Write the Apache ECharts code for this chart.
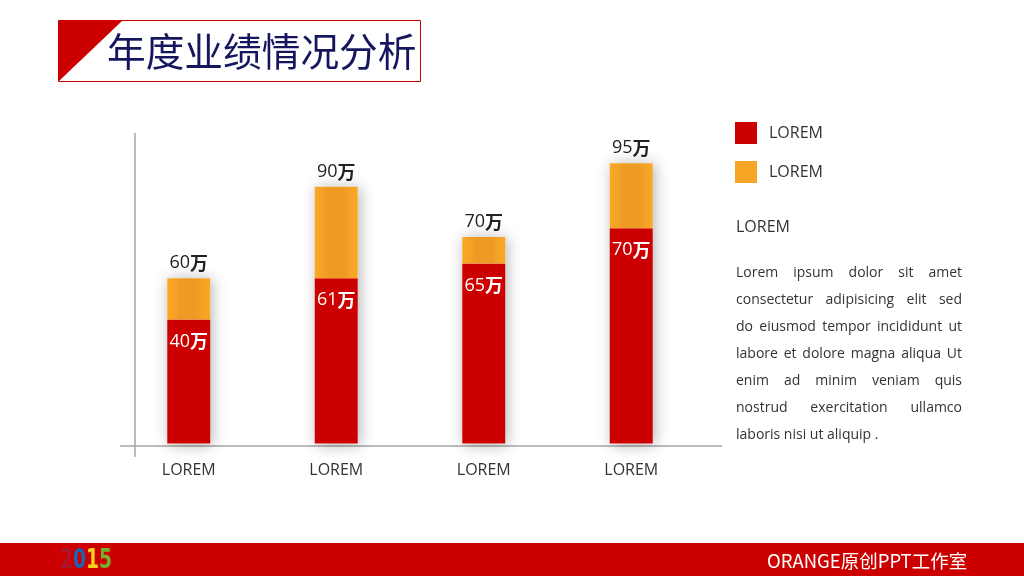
<!DOCTYPE html>
<html>
<head>
<meta charset="utf-8">
<script src="https://cdn.jsdelivr.net/npm/echarts@6/dist/echarts.min.js"></script>
<style>
html,body{margin:0;padding:0;background:#fff;}
#chart{width:1024px;height:576px;}
</style>
</head>
<body>
<div id="chart"></div>
<script>
// ---- data ----
const categories = ['LOREM', 'LOREM', 'LOREM', 'LOREM'];
const redValues = [42, 56, 61, 73];      // lower (red) segment
const orangeValues = [14, 31, 9, 22];    // upper (orange) segment
const totalLabels = ['60', '90', '70', '95'];
const redLabels = ['40', '61', '65', '70'];
const legendNames = ['LOREM', 'LOREM'];
const titleText = '年度业绩情况分析';
const sideHeading = 'LOREM';
const paragraphLines = [
  'Lorem ipsum dolor sit amet',
  'consectetur adipisicing elit sed',
  'do eiusmod tempor incididunt ut',
  'labore et dolore magna aliqua Ut',
  'enim ad minim veniam quis',
  'nostrud exercitation ullamco',
  'laboris nisi ut aliquip .'
];
const footerText = 'ORANGE原创PPT工作室';
const logoDigits = ['2', '0', '1', '5'];

const totals = redValues.map((v, i) => v + orangeValues[i]);

const LATIN = '"Open Sans", "Noto Sans CJK SC", sans-serif';
const CJK = '"Noto Sans CJK SC", "Open Sans", sans-serif';
const RED = '#CC0000';

const chart = echarts.init(document.getElementById('chart'), null, {renderer: 'canvas'});

// justified paragraph
const ctx = document.createElement('canvas').getContext('2d');
const pFont = '14px ' + LATIN;
ctx.font = pFont;
const paraLeft = 736, paraRight = 962, paraTop = 273, paraStep = 27;
const paraGraphics = [];
paragraphLines.forEach((line, li) => {
  const words = line.split(' ');
  const y = paraTop + li * paraStep;
  if (li === paragraphLines.length - 1 || words.length < 2) {
    paraGraphics.push({type: 'text', x: paraLeft, y: y, silent: true,
      style: {text: line, font: pFont, fill: '#333', verticalAlign: 'middle'}});
    return;
  }
  const widths = words.map(w => ctx.measureText(w).width);
  const sum = widths.reduce((a, b) => a + b, 0);
  const gap = (paraRight - paraLeft - sum) / (words.length - 1);
  let x = paraLeft;
  words.forEach((w, wi) => {
    paraGraphics.push({type: 'text', x: x, y: y, silent: true,
      style: {text: w, font: pFont, fill: '#333', verticalAlign: 'middle'}});
    x += widths[wi] + gap;
  });
});

const logoColors = ['#A8182A', '#1565B8', '#F2D21C', '#72B22E'];
const logoRich = {};
logoColors.forEach((c, i) => {
  logoRich['d' + i] = {fontSize: 26, fontWeight: 'bold', fill: c, fontFamily: '"DejaVu Sans Condensed", sans-serif'};
});

const option = {
  animation: false,
  backgroundColor: '#fff',
  grid: {left: 115, right: 319, top: 148.5, bottom: 132.5},
  xAxis: {
    type: 'category',
    data: categories,
    axisLine: {show: false},
    axisTick: {show: false},
    axisLabel: {margin: 19, fontSize: 16, color: '#333', fontFamily: LATIN}
  },
  yAxis: {
    type: 'value', min: 0, max: 100,
    show: false
  },
  legend: {
    orient: 'vertical',
    left: 735, top: 122, padding: 0,
    itemWidth: 22, itemHeight: 22, itemGap: 17,
    icon: 'rect',
    data: [
      {name: 'red', itemStyle: {color: RED}},
      {name: 'orange', itemStyle: {color: '#F8A526'}}
    ],
    formatter: function (n) { return n === 'red' ? legendNames[0] : legendNames[1]; },
    textStyle: {fontSize: 16, color: '#333', fontFamily: LATIN, padding: [0, 0, 0, 7]},
    selectedMode: false
  },
  series: [
    {
      name: 'shadow', type: 'bar', data: totals, barWidth: 43, barGap: '-100%',
      silent: true, z: 1,
      itemStyle: {color: '#fff', shadowBlur: 14, shadowColor: 'rgba(0,0,0,0.30)', shadowOffsetX: 2, shadowOffsetY: 1}
    },
    {
      name: 'red', type: 'bar', stack: 'total', data: redValues, barWidth: 43, z: 3,
      itemStyle: {color: RED},
      label: {
        show: true, position: 'insideTop', distance: 13,
        formatter: p => '{n|' + redLabels[p.dataIndex] + '}{w|万}',
        rich: {
          n: {fontSize: 18, color: '#fff', fontFamily: LATIN},
          w: {fontSize: 18, color: '#fff', fontFamily: CJK, fontWeight: 'bold'}
        }
      }
    },
    {
      name: 'orange', type: 'bar', stack: 'total', data: orangeValues, barWidth: 43, z: 3,
      itemStyle: {
        color: new echarts.graphic.LinearGradient(0, 0, 1, 0, [
          {offset: 0, color: '#F9A826'},
          {offset: 0.18, color: '#F6A225'},
          {offset: 0.3, color: '#EE9B24'},
          {offset: 0.7, color: '#EE9B24'},
          {offset: 0.82, color: '#F6A225'},
          {offset: 1, color: '#F9A826'}
        ])
      },
      label: {
        show: true, position: 'top', distance: 6,
        formatter: p => '{n|' + totalLabels[p.dataIndex] + '}{w|万}',
        rich: {
          n: {fontSize: 18, color: '#222', fontFamily: LATIN},
          w: {fontSize: 18, color: '#222', fontFamily: CJK, fontWeight: 'bold'}
        }
      }
    }
  ],
  graphic: [
    // axes
    {type: 'line', silent: true, z: 0, shape: {x1: 135, y1: 133, x2: 135, y2: 457}, style: {stroke: '#A6A6A6', lineWidth: 1.5}},
    {type: 'line', silent: true, z: 0, shape: {x1: 120, y1: 446, x2: 722, y2: 446}, style: {stroke: '#A6A6A6', lineWidth: 1.5}},
    // title box
    {type: 'rect', silent: true, shape: {x: 58.5, y: 20.5, width: 362, height: 61}, style: {fill: '#fff', stroke: RED, lineWidth: 1}},
    {type: 'polygon', silent: true, shape: {points: [[59, 21], [122, 21], [59, 81]]}, style: {fill: RED}},
    {type: 'text', silent: true, x: 107, y: 51, style: {text: titleText, font: '38.7px ' + CJK, fill: '#16165E', verticalAlign: 'middle'}},
    // side text
    {type: 'text', silent: true, x: 736, y: 227, style: {text: sideHeading, font: '16px ' + LATIN, fill: '#333', verticalAlign: 'middle'}},
    // footer
    {type: 'rect', silent: true, shape: {x: 0, y: 543, width: 1024, height: 33}, style: {fill: RED}},
    {type: 'text', silent: true, x: 767, y: 561, style: {text: footerText, font: '18.5px ' + CJK, fill: '#fff', verticalAlign: 'middle'}},
    {type: 'text', silent: true, x: 60, y: 561, scaleX: 0.8,
      style: {
        text: logoDigits.map((d, i) => '{d' + i + '|' + d + '}').join(''),
        verticalAlign: 'middle',
        rich: logoRich
      }
    }
  ].concat(paraGraphics)
};
chart.setOption(option);
</script>
</body>
</html>
